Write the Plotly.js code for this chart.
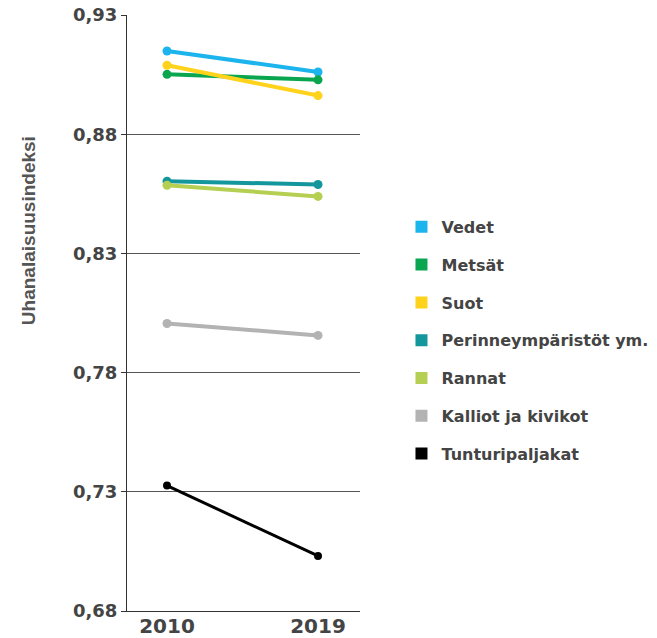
<!DOCTYPE html>
<html><head><meta charset="utf-8">
<script src="https://cdn.plot.ly/plotly-3.0.1.min.js"></script>
<style>body{margin:0;background:#fff}#c{width:657px;height:638px}</style>
</head><body><div id="c"></div>
<script>
const years = ['2010', '2019'];
const names = ['Vedet', 'Metsät', 'Suot', 'Perinneympäristöt ym.', 'Rannat', 'Kalliot ja kivikot', 'Tunturipaljakat'];
const vedet = [0.9149, 0.9061];
const metsat = [0.9051, 0.9028];
const suot = [0.9089, 0.8962];
const perinne = [0.8603, 0.8589];
const rannat = [0.8586, 0.8539];
const kalliot = [0.8006, 0.7956];
const tunturi = [0.7326, 0.7031];
const yTicks = [0.68, 0.73, 0.78, 0.83, 0.88, 0.93];
const yTitle = 'Uhanalaisuusindeksi';
const colors = ['#1cb4ec', '#0aa64f', '#ffd21c', '#14979c', '#b5cf52', '#b3b3b3', '#000000'];

const series = [vedet, metsat, suot, perinne, rannat, kalliot, tunturi];
const traces = [];
series.forEach((vals, i) => {
  const w = i === 6 ? 3 : 4;
  traces.push({
    x: years, y: vals, type: 'scatter', mode: 'lines+markers', name: names[i],
    line: {color: colors[i], width: w}, marker: {color: colors[i], size: i === 6 ? 8 : 9},
    showlegend: false, legendgroup: 'g' + i, hoverinfo: 'skip'
  });
});
series.forEach((vals, i) => {
  traces.push({
    x: [null], y: [null], type: 'scatter', mode: 'markers', name: names[i],
    marker: {color: colors[i], size: 12, symbol: 'square'},
    showlegend: true, legendgroup: 'g' + i
  });
});

const bold = 'DejaVu Sans, Verdana, sans-serif';
const layout = {
  width: 657, height: 638,
  margin: {l: 127, r: 297, t: 15, b: 27, autoexpand: false},
  paper_bgcolor: '#fff', plot_bgcolor: '#fff',
  separators: ', ',
  font: {family: bold, color: '#444'},
  showlegend: true,
  legend: {
    x: 1.178, xanchor: 'left', y: 0.673, yanchor: 'top',
    traceorder: 'grouped', tracegroupgap: 14,
    font: {size: 16, color: '#444', weight: 'bold', family: bold},
    itemwidth: 30
  },
  xaxis: {
    type: 'category', range: [-0.265, 1.278], automargin: false,
    showline: true, linecolor: '#333', linewidth: 1,
    showgrid: false, ticks: '', zeroline: false, ticklabelstandoff: -3,
    tickfont: {size: 20, weight: 'bold', color: '#444', family: bold}
  },
  yaxis: {
    range: [0.68, 0.93], tickvals: yTicks, tickformat: '.2f', automargin: false,
    showline: true, linecolor: '#333', linewidth: 1,
    showgrid: true, gridcolor: '#555', gridwidth: 1,
    ticks: 'outside', ticklen: 5, tickcolor: '#333',
    zeroline: false,
    tickfont: {size: 18, weight: 'bold', color: '#444', family: bold}
  },
  annotations: [{
    text: yTitle, xref: 'paper', yref: 'paper', x: -0.425, y: 0.639,
    xanchor: 'center', yanchor: 'middle', textangle: -90, showarrow: false,
    font: {size: 19, weight: 'bold', color: '#555', family: 'Liberation Sans, Arial, sans-serif'}
  }]
};
Plotly.newPlot('c', traces, layout, {staticPlot: true});
</script>
</body></html>
